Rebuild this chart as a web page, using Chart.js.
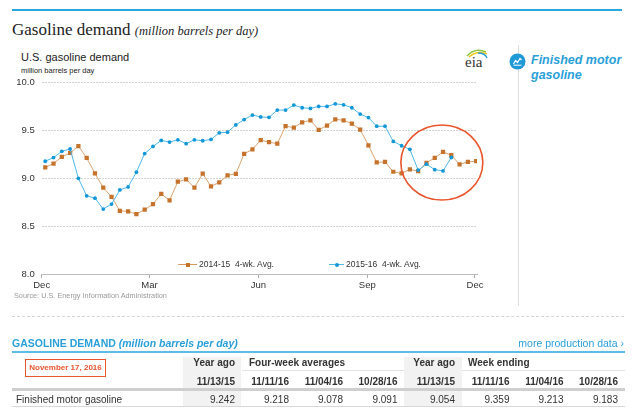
<!DOCTYPE html>
<html lang="en">
<head>
<meta charset="UTF-8">
<title>Gasoline demand</title>
<script src="https://cdn.jsdelivr.net/npm/chart.js"></script>
<style>
  body { margin: 0; background: #fff; font-family: "Liberation Sans", Arial, sans-serif; color: #333; }
  #page { position: relative; width: 640px; height: 416px; overflow: hidden; }
  .abs { position: absolute; white-space: nowrap; }
  .title { font-family: "Liberation Serif", "Times New Roman", serif; font-size: 17px; color: #222; }
  .title i { font-size: 12.5px; }
  .legend-item { position: absolute; top: 259px; font-size: 8.5px; line-height: 10px; color: #333; }
  .legend-item .ln { display: inline-block; vertical-align: middle; position: relative; height: 1px; margin-right: 2px; }
  .legend-item .mk { position: absolute; left: 50%; top: 50%; }
  .hd { font-weight: bold; font-size: 10px; color: #333; }
  .cell { font-size: 10px; color: #333; text-align: right; }
</style>
</head>
<body>
<div id="page">
  <div class="abs" style="left:12px;top:9px;width:610px;height:2px;background:#2aa7df"></div>
  <div class="abs title" style="left:12px;top:20px;line-height:20px">Gasoline demand <i>(million barrels per day)</i></div>
  <div class="abs" style="left:21px;top:51px;font-size:11px;line-height:13px;color:#222">U.S. gasoline demand</div>
  <div class="abs" style="left:21px;top:66px;font-size:7.5px;line-height:9px;color:#222">million barrels per day</div>

  <!-- eia logo -->
  <svg class="abs" style="left:462px;top:46px" width="28" height="26" viewBox="0 0 28 26">
    <path d="M5 10 Q13 1 24 6" stroke="#8cc63f" stroke-width="1.6" fill="none"/>
    <path d="M7 11 Q15 4 25 8" stroke="#f2c318" stroke-width="1.4" fill="none"/>
    <path d="M16 7 Q23 7 25 12" stroke="#2a9fd8" stroke-width="1.4" fill="none"/>
    <text x="3" y="21" font-family="Liberation Serif, serif" font-size="15" fill="#333">eia</text>
  </svg>

  <div class="abs" style="left:518px;top:45px;width:1px;height:261px;background:#ddd"></div>
  <svg class="abs" style="left:509px;top:53px" width="17" height="17" viewBox="0 0 17 17">
    <circle cx="8.5" cy="8.5" r="8" fill="#1f9ad7"/>
    <polyline points="4.5,11 6.5,7.5 8.5,9.5 11,5.5 12.5,7" stroke="#fff" stroke-width="1.2" fill="none"/>
    <line x1="4.5" y1="12.2" x2="12.5" y2="12.2" stroke="#fff" stroke-width="1"/>
  </svg>
  <div class="abs" style="left:531px;top:53px;font-size:12.5px;line-height:14.5px;font-weight:bold;font-style:italic;color:#2a9fd8">Finished motor<br>gasoline</div>

  <div class="abs" style="left:0;top:70px;width:490px;height:230px">
    <canvas id="demandChart" width="490" height="230"></canvas>
  </div>

  <div class="legend-item" style="left:178px">
    <span class="ln" style="width:19px;background:#d49a62"><span class="mk" style="width:4px;height:4px;margin:-2px 0 0 -2px;background:#c4722c"></span></span>2014-15&nbsp; 4-wk. Avg.
  </div>
  <div class="legend-item" style="left:329px">
    <span class="ln" style="width:15px;background:#4db8e8"><span class="mk" style="width:4px;height:4px;margin:-2px 0 0 -2px;border-radius:50%;background:#1297d8"></span></span>2015-16&nbsp; 4-wk. Avg.
  </div>

  <div class="abs" style="left:14px;top:291px;font-size:7.3px;color:#999">Source: U.S. Energy Information Administration</div>
  <div class="abs" style="left:12px;top:316px;width:612px;border-top:1px dashed #d5d5d5"></div>

  <div id="tbl"></div>
</div>

<script>
// week ending dates for the 4-week averages (2015-16 season)
const weekEnding = [
  '2015-12-04','2015-12-11','2015-12-18','2015-12-25',
  '2016-01-01','2016-01-08','2016-01-15','2016-01-22','2016-01-29',
  '2016-02-05','2016-02-12','2016-02-19','2016-02-26',
  '2016-03-04','2016-03-11','2016-03-18','2016-03-25',
  '2016-04-01','2016-04-08','2016-04-15','2016-04-22','2016-04-29',
  '2016-05-06','2016-05-13','2016-05-20','2016-05-27',
  '2016-06-03','2016-06-10','2016-06-17','2016-06-24',
  '2016-07-01','2016-07-08','2016-07-15','2016-07-22','2016-07-29',
  '2016-08-05','2016-08-12','2016-08-19','2016-08-26',
  '2016-09-02','2016-09-09','2016-09-16','2016-09-23','2016-09-30',
  '2016-10-07','2016-10-14','2016-10-21','2016-10-28',
  '2016-11-04','2016-11-11','2016-11-18','2016-11-25',
  '2016-12-02'
];

const avg1415 = [
  9.114, 9.155, 9.224, 9.265, 9.338, 9.213, 9.052, 8.903, 8.806, 8.661,
  8.654, 8.627, 8.672, 8.731, 8.837, 8.770, 8.965, 8.990, 8.903, 9.050,
  8.915, 8.958, 9.031, 9.048, 9.256, 9.303, 9.400, 9.379, 9.362, 9.545,
  9.531, 9.586, 9.607, 9.507, 9.552, 9.617, 9.607, 9.572, 9.510, 9.345,
  9.166, 9.172, 9.069, 9.052, 9.093, 9.076, 9.162, 9.214, 9.276, 9.242,
  9.145, 9.172, 9.179
];

const avg1516 = [
  9.179, 9.217, 9.283, 9.307, 9.000, 8.817, 8.793, 8.679, 8.731, 8.879,
  8.910, 9.065, 9.259, 9.334, 9.396, 9.379, 9.403, 9.362, 9.403, 9.393,
  9.407, 9.476, 9.483, 9.559, 9.614, 9.662, 9.642, 9.638, 9.714, 9.714,
  9.766, 9.738, 9.731, 9.752, 9.752, 9.779, 9.769, 9.738, 9.672, 9.635,
  9.545, 9.545, 9.386, 9.341, 9.303, 9.086, 9.148, 9.091, 9.078, 9.218
];

const tickDays = [0, 91, 183, 275, 366];
const tickLabels = ['Dec', 'Mar', 'Jun', 'Sep', 'Dec'];
const yTicks = [8.0, 8.5, 9.0, 9.5, 10.0];

// table under the chart
const colDates = ['11/13/15', '11/11/16', '11/04/16', '10/28/16', '11/13/15', '11/11/16', '11/04/16', '10/28/16'];
const gasolineRow = [9.242, 9.218, 9.078, 9.091, 9.054, 9.359, 9.213, 9.183];

const base = Date.UTC(2015, 11, 1);
const dayOf = s => (Date.parse(s) - base) / 86400000;

const pts = arr => arr.map((v, i) => ({ x: dayOf(weekEnding[i]), y: v }));

const circleNote = {
  id: 'circleNote',
  afterDatasetsDraw(chart) {
    const { ctx, scales: { x, y } } = chart;
    ctx.save();
    ctx.strokeStyle = '#e9552d';
    ctx.lineWidth = 1.6;
    ctx.beginPath();
    ctx.ellipse(x.getPixelForValue(338), y.getPixelForValue(9.165), 41, 37.5, 0, 0, Math.PI * 2);
    ctx.stroke();
    ctx.restore();
  }
};

Chart.defaults.font.family = '"Liberation Sans", Arial, sans-serif';

new Chart(document.getElementById('demandChart'), {
  type: 'line',
  data: {
    datasets: [{
      label: '2015-16  4-wk. Avg.',
      data: pts(avg1516),
      borderColor: '#4db8e8',
      borderWidth: 1,
      pointRadius: 1.9,
      pointBackgroundColor: '#1297d8',
      pointBorderWidth: 0,
      tension: 0
    }, {
      label: '2014-15  4-wk. Avg.',
      data: pts(avg1415),
      borderColor: '#d9a470',
      borderWidth: 1,
      pointStyle: 'rect',
      pointRadius: 3,
      pointBackgroundColor: '#c4722c',
      pointBorderWidth: 0,
      tension: 0
    }]
  },
  options: {
    responsive: false,
    animation: false,
    layout: { padding: { top: 0, right: 13, left: 0, bottom: 0 } },
    scales: {
      x: {
        type: 'linear',
        min: 0,
        max: 367.7,
        afterBuildTicks: s => { s.ticks = tickDays.map(v => ({ value: v })); },
        afterFit: s => { s.height = 26; },
        ticks: {
          callback: (v, i) => tickLabels[i],
          autoSkip: false,
          maxRotation: 0,
          padding: 2,
          color: '#333',
          font: { size: 9.5 }
        },
        grid: { drawOnChartArea: false, drawTicks: true, tickLength: 4, color: '#aaa' },
        border: { color: '#bbb' }
      },
      y: {
        min: 8,
        max: 10,
        afterBuildTicks: s => { s.ticks = yTicks.map(v => ({ value: v })); },
        afterFit: s => { s.width = 41.7; },
        ticks: {
          callback: v => v.toFixed(1),
          padding: 7,
          color: '#333',
          font: { size: 9.5 }
        },
        grid: {
          drawTicks: false,
          color: c => c.tick && c.tick.value === 8 ? 'rgba(0,0,0,0)' : '#d2d2d2'
        },
        border: { display: false, dash: [2, 1] }
      }
    },
    plugins: { legend: { display: false }, tooltip: { enabled: false } }
  },
  plugins: [circleNote]
});

// table
const tbl = document.getElementById('tbl');
function put(html, style, cls) {
  const d = document.createElement('div');
  d.className = 'abs ' + (cls || '');
  d.style.cssText = style;
  d.innerHTML = html;
  tbl.appendChild(d);
  return d;
}
const rightEdges = [235, 289, 343, 397.5, 455, 509.5, 563.5, 618];

put('', 'left:183px;top:357px;width:58px;height:49px;background:#f2f2f2');
put('', 'left:404px;top:357px;width:58px;height:49px;background:#f2f2f2');
put('GASOLINE DEMAND <i>(million barrels per day)</i>', 'left:12px;top:337px;font-size:10.5px;line-height:13px;font-weight:bold;color:#2a9fd8');
put('more production data &rsaquo;', 'right:16px;top:337px;font-size:10.5px;line-height:13px;color:#2a9fd8');
put('', 'left:12px;top:351px;width:613px;height:1.5px;background:#5bbde8');
put('November 17, 2016', 'left:25px;top:359px;width:79px;height:16px;border:1.5px solid #e9552d;color:#e9552d;font-size:8px;font-weight:bold;line-height:16px;text-align:center');
put('Year ago', 'left:' + (rightEdges[0] - 60) + 'px;width:60px;top:356px;line-height:14px;text-align:right', 'hd');
put('Four-week averages', 'left:249px;top:356px;line-height:14px', 'hd');
put('Year ago', 'left:' + (rightEdges[4] - 60) + 'px;width:60px;top:356px;line-height:14px;text-align:right', 'hd');
put('Week ending', 'left:468px;top:356px;line-height:14px', 'hd');
put('', 'left:242px;top:370px;width:162px;height:1px;background:#e2e2e2');
put('', 'left:462px;top:370px;width:163px;height:1px;background:#e2e2e2');
colDates.forEach((d, i) => {
  put(d, 'left:' + (rightEdges[i] - 50) + 'px;width:50px;top:375px;line-height:14px;text-align:right', 'hd');
});
put('', 'left:12px;top:388px;width:613px;height:2.5px;background:#cfcfcf');
put('Finished motor gasoline', 'left:16px;top:393px;font-size:10px;line-height:14px;color:#333');
gasolineRow.forEach((v, i) => {
  put(v.toFixed(3), 'left:' + (rightEdges[i] - 50) + 'px;width:50px;top:393px;line-height:14px', 'cell');
});
put('', 'left:12px;top:406px;width:613px;height:1px;background:#d8d8d8');
</script>
</body>
</html>
